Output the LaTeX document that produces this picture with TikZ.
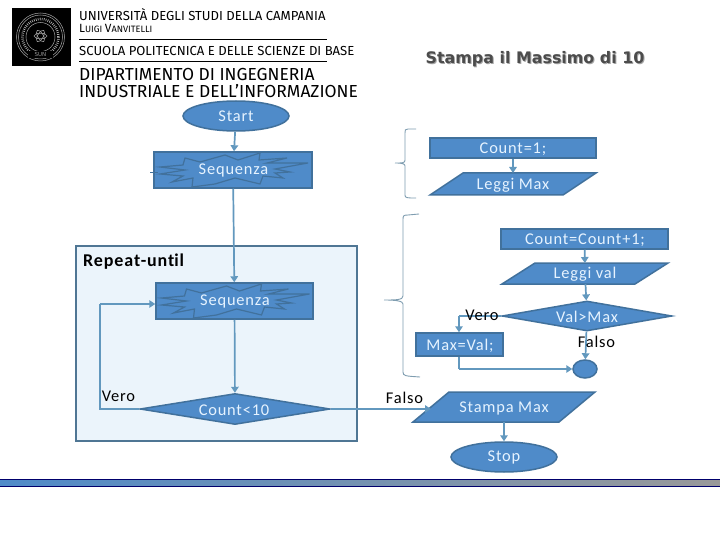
\documentclass[tikz,border=0pt]{standalone}
\usepackage{fontspec}
\setmainfont{Carlito}
\newfontfamily\shapefont[LetterSpace=5]{Carlito}
\newfontfamily\logofont{Fira Sans}
\newfontfamily\titlefont{DejaVu Sans}
\usetikzlibrary{shapes.geometric,arrows.meta}
\definecolor{shapefill}{HTML}{4F8BC9}
\definecolor{shapeline}{HTML}{41719C}
\definecolor{conn}{HTML}{6298BE}
\definecolor{panelfill}{HTML}{EBF4FB}
\definecolor{panelline}{HTML}{4F7694}
\definecolor{shapetext}{HTML}{E6F3FF}
\definecolor{bracecol}{HTML}{7F9DB0}
\tikzset{
 x=1pt,y=-1pt,
 shapebase/.style={draw=shapeline,line width=1.5pt,fill=shapefill,text=shapetext,inner sep=0pt},
 boxnode/.style={shapebase,rectangle},
 ovalnode/.style={shapebase,ellipse},
 decnode/.style={shapebase,diamond,aspect=5.6},
 ionode/.style={rectangle,inner sep=0pt,outer sep=0pt},
 link/.style={draw=conn,line width=1.7pt,-{Triangle[length=6pt,width=7.5pt]}},
 plainlink/.style={draw=conn,line width=1.7pt},
 lab/.style={inner sep=0pt,text=black,font=\shapefont\fontsize{16.4}{18}\selectfont},
 shapelab/.style={lab,text=shapetext},
 bracket/.style={draw=bracecol,line width=.9pt},
 logotext/.style={inner sep=0pt,anchor=west,text=black},
}
\newcommand{\burst}[1]{%
 \draw[shapeline,line width=1.2pt] (#1) ++(-48,-12) -- ++(15,4) -- ++(25,-7) -- ++(13,5) -- ++(22,-7) -- ++(-1,7) -- ++(28,-2) -- ++(-20,5) -- ++(41,0) -- ++(-33,6) -- ++(15,3) -- ++(-15,1) -- ++(8,5) -- ++(-20,-2) -- ++(-3,8) -- ++(-25,-6) -- ++(-20,6) -- ++(-23,3) -- ++(1,-9) -- ++(-21,4) -- ++(11,-6) -- ++(-23,-2) -- ++(25,-4) -- ++(-25,-3) -- ++(23,-2) -- cycle;}
% name, left, top, right, bottom, slant
\newcommand{\ioshape}[6]{%
 \draw[shapeline,line width=1.5pt,fill=shapefill] (#2+#6,#3) -- (#4,#3) -- (#4-#6,#5) -- (#2,#5) -- cycle;
 \node[ionode,minimum width=#4-#2-#6,minimum height=#5-#3] (#1) at ({(#2+#4)/2},{(#3+#5)/2}) {};}
\begin{document}
\begin{tikzpicture}
\useasboundingbox (0,0) rectangle (720,540);
\fill[white] (0,0) rectangle (720,540);
% logo
\fill[black] (12,8) rectangle (71,66);
\foreach \r in {24,22} \draw[gray!70,line width=.5pt] (40.5,37) circle[radius=\r];
\draw[gray!60,line width=2.5pt,dash pattern=on .7pt off 1.3pt] (40.5,37) circle[radius=18];
\draw[gray!70,line width=.5pt] (40.5,37) circle[radius=14.5];
\foreach \a in {0,60,120} \draw[gray!75,line width=.6pt,rotate around={\a:(40.5,36)}] (40.5,36) ellipse[x radius=6.5,y radius=2.8];
\fill[black] (28,51) rectangle (53,58);
\node[inner sep=0pt,text=gray!80,font=\titlefont\fontsize{5.5}{6}\selectfont] (seal) at (40.5,55) {SUN};
\node[logotext,font=\logofont\fontsize{13.1}{14}\selectfont] (l1) at (79,14.5) {UNIVERSITÀ DEGLI STUDI DELLA CAMPANIA};
\node[logotext,font=\logofont\fontsize{11.9}{13}\selectfont] (l2) at (79,28) {L\fontsize{9.2}{10}\selectfont UIGI \fontsize{11.9}{13}\selectfont V\fontsize{9.2}{10}\selectfont ANVITELLI};
\draw[black,line width=.8pt] (79,39.5) -- (327,39.5);
\node[logotext,font=\logofont\fontsize{13.1}{14}\selectfont] (l3) at (79,51) {SCUOLA POLITECNICA E DELLE SCIENZE DI BASE};
\draw[black,line width=.8pt] (79,61.5) -- (327,61.5);
\node[logotext,font=\logofont\fontsize{17.4}{18}\selectfont] (l4) at (79,75) {DIPARTIMENTO DI INGEGNERIA};
\node[logotext,font=\logofont\fontsize{17.4}{18}\selectfont] (l5) at (79,91) {INDUSTRIALE E DELL’INFORMAZIONE};
% title
\node[inner sep=0pt,text=black!35,font=\titlefont\bfseries\fontsize{15.9}{18}\selectfont] at (536,60) {Stampa il Massimo di 10};
\node[inner sep=0pt,text=black!70,font=\titlefont\bfseries\fontsize{15.9}{18}\selectfont] (title) at (535,59) {Stampa il Massimo di 10};
% panel
\draw[panelline,line width=1.5pt,fill=panelfill] (76,246) rectangle (357,441);
\node[inner sep=0pt,anchor=west,text=black,font=\shapefont\bfseries\fontsize{18}{20}\selectfont] (rep) at (83,262) {Repeat-unt\kern0pt il};
% bottom bar
\shade[left color=shapefill,right color=black!40] (0,479) rectangle (720,485);
\draw[black!15!blue!50!black,line width=.8pt] (0,479) -- (720,479) (0,486) -- (720,486);
% braces
\draw[bracket] (416,129) -- (408,129) .. controls (405,129) and (405,130) .. (405,133) -- (405,160) .. controls (405,163) and (403,163) .. (395,163) .. controls (403,163) and (405,164) .. (405,166) -- (405,195) .. controls (405,198) and (407,198) .. (416,198);
\draw[bracket] (419,214) -- (408,215) .. controls (403,215) and (403,216) .. (403,220) -- (403,296) .. controls (403,300) and (396,300) .. (384,300) .. controls (396,300) and (403,301) .. (403,304) -- (403,372) .. controls (403,376) and (405,376) .. (420,377);
% connectors to the far side of the panel are drawn first
\node[decnode,minimum width=190pt,minimum height=31pt] (test) at (235,409) {};
\ioshape{prn}{413}{392}{595}{422}{36}
\draw[link] (test.east) -- (prn.west |- test.east);
% nodes
\node[ovalnode,minimum width=106pt,minimum height=30pt] (start) at (236,116) {};
\node[boxnode,minimum width=158pt,minimum height=36pt] (seqa) at (233,170) {};
\burst{seqa.center}
\draw[shapeline,line width=1pt] (seqa.west) ++(-3,3) -- ++(8,0);
\node[boxnode,minimum width=157pt,minimum height=36pt] (seqb) at (234.5,301) {};
\burst{seqb.center}
\node[boxnode,minimum width=166pt,minimum height=20pt] (cnta) at (513,148) {};
\ioshape{rmax}{430}{173}{596}{195}{33}
\node[boxnode,minimum width=167pt,minimum height=20pt] (cntb) at (584.5,239) {};
\ioshape{rval}{502}{263}{668}{284}{33}
\node[decnode,minimum width=170pt,minimum height=30pt] (cmp) at (587,316) {};
\node[boxnode,minimum width=87pt,minimum height=23pt] (setm) at (459.5,344.5) {};
\node[ovalnode,minimum width=24pt,minimum height=18pt] (join) at (585,369) {};
\node[ovalnode,minimum width=106pt,minimum height=30pt] (stop) at (504,457) {};
% shape texts
\node[shapelab] at (236,116.5) {Start};
\node[shapelab] at (233.5,171) {Sequenza};
\node[shapelab] at (235,301.5) {Sequenza};
\node[shapelab] at (234,410) {Count<10};
\node[shapelab] at (513,149) {Count=1;};
\node[shapelab] at (513,185) {Leggi Max};
\node[shapelab] at (585,240) {Count=Count+1;};
\node[shapelab] at (585,274) {Leggi val};
\node[shapelab] at (587,317) {Val>Max};
\node[shapelab] at (460,346) {Max=Val;};
\node[shapelab] at (504,408) {Stampa Max};
\node[shapelab] at (504,457.5) {Stop};
% connectors
\coordinate (cl) at (100,304);
\coordinate (cd) at (100,409);
\coordinate (vt) at (459,316);
\coordinate (vb) at (459,369);
\draw[link] (start) -- (seqa);
\draw[link] (seqa) -- (seqb);
\draw[link] (seqb) -- (test);
\draw[plainlink] (test.west) -- (cd) -- (cl);
\draw[link] (cl) -- (seqb.west |- cl);
\draw[link] (cnta) -- (rmax);
\draw[link] (cntb) -- (rval);
\draw[link] (rval) -- (cmp);
\draw[plainlink] (cmp.west) -- (vt);
\draw[link] (vt) -- (setm.north -| vt);
\draw[link] (cmp) -- (join);
\draw[plainlink] (setm.south -| vb) -- (vb);
\draw[link] (vb) -- (join.west);
\draw[link] (prn) -- (stop);
% labels
\node[lab] (v1) at (118.5,396.5) {Vero};
\node[lab] (v2) at (482,315) {Vero};
\node[lab] (f1) at (596.5,341.5) {Falso};
\node[lab] (f2) at (404.5,397.5) {Falso};
\end{tikzpicture}
\end{document}
